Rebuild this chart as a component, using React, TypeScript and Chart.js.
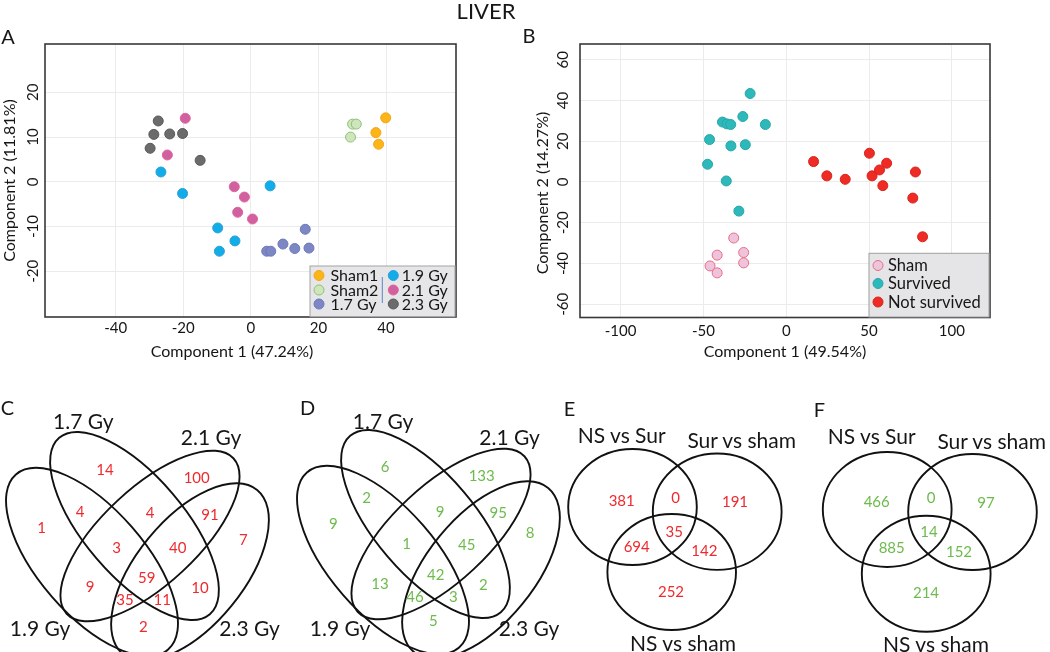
import React, { useEffect, useRef } from 'react';
import { Chart, registerables } from 'chart.js';

Chart.register(...registerables);

const W = 1050;
const H = 652;
const FONT = 'Lato, "Noto Sans", "DejaVu Sans", sans-serif';
const INK = '#161616';

// ---------------- Panel A (PCA, dose groups) ----------------
const A_GROUPS = ['Sham1', 'Sham2', '1.7 Gy', '1.9 Gy', '2.1 Gy', '2.3 Gy'];
const A_SHAM1: [number, number][] = [[39.9, 14.3], [37.0, 11.0], [37.8, 8.4]];
const A_SHAM2: [number, number][] = [[30.1, 12.9], [31.2, 12.9], [29.5, 10.0]];
const A_G17: [number, number][] = [[4.7, -15.5], [5.9, -15.5], [9.5, -13.9], [13.0, -14.9], [17.2, -14.8], [16.1, -10.6]];
const A_G19: [number, number][] = [[-26.6, 2.2], [-20.2, -2.6], [5.7, -0.9], [-9.8, -10.3], [-4.7, -13.2], [-9.3, -15.5]];
const A_G21: [number, number][] = [[-19.4, 14.2], [-24.7, 6.0], [-4.9, -1.1], [-1.9, -3.4], [-3.9, -6.8], [0.5, -8.3]];
const A_G23: [number, number][] = [[-27.4, 13.6], [-28.7, 10.6], [-24.0, 10.7], [-20.2, 10.8], [-29.8, 7.5], [-15.0, 4.8]];
const A_X_TICKS = [-40, -20, 0, 20, 40];
const A_Y_TICKS = [-20, -10, 0, 10, 20];
const A_X_TITLE = 'Component 1 (47.24%)';
const A_Y_TITLE = 'Component 2 (11.81%)';

// ---------------- Panel B (PCA, outcome groups) ----------------
const B_GROUPS = ['Sham', 'Survived', 'Not survived'];
const B_SHAM: [number, number][] = [[-31.7, -27.5], [-41.7, -35.9], [-25.7, -34.6], [-25.7, -39.7], [-46.0, -41.2], [-41.7, -44.6]];
const B_SURVIVED: [number, number][] = [[-21.8, 43.4], [-26.2, 32.1], [-12.6, 28.2], [-38.5, 29.4], [-35.8, 28.5], [-33.5, 28.2], [-46.3, 20.8], [-33.4, 17.7], [-24.7, 18.3], [-47.5, 8.7], [-36.2, 0.5], [-28.6, -14.3]];
const B_NOT_SURVIVED: [number, number][] = [[16.5, 10.0], [24.5, 3.0], [35.6, 1.3], [50.2, 14.1], [51.8, 3.0], [56.3, 5.9], [60.6, 9.2], [58.3, -1.8], [78.0, 4.9], [76.4, -7.9], [82.3, -26.9]];
const B_X_TICKS = [-100, -50, 0, 50, 100];
const B_Y_TICKS = [-60, -40, -20, 0, 20, 40, 60];
const B_X_TITLE = 'Component 1 (49.54%)';
const B_Y_TITLE = 'Component 2 (14.27%)';

// ---------------- Venn counts ----------------
// region order (4-set): 1.9 only, 1.7 only, 2.1 only, 2.3 only, 1.9&1.7, 1.7&2.1, 2.1&2.3,
// 1.9&1.7&2.1, 1.7&2.1&2.3, 1.9&2.1, 1.7&2.3, all, 1.9&2.1&2.3, 1.9&1.7&2.3, 1.9&2.3
const C_COUNTS = [1, 14, 100, 7, 4, 4, 91, 3, 40, 9, 10, 59, 35, 11, 2];
const D_COUNTS = [9, 6, 133, 8, 2, 9, 95, 1, 45, 13, 2, 42, 46, 3, 5];
const VENN4_SETS = ['1.7 Gy', '2.1 Gy', '1.9 Gy', '2.3 Gy'];
// region order (3-set): NS vs Sur only, NSvsSur & SurvsSham, Sur vs sham only, all, NSvsSur & NSvsSham, SurvsSham & NSvsSham, NS vs sham only
const E_COUNTS = [381, 0, 191, 35, 694, 142, 252];
const F_COUNTS = [466, 0, 97, 14, 885, 152, 214];
const VENN3_SETS = ['NS vs Sur', 'Sur vs sham', 'NS vs sham'];

// ---------------- layout (positions / sizes / styles) ----------------
const A_LAYOUT = { left: 45, right: 456, top: 44, bottom: 317, xMin: -60.9, xMax: 60.7, yMin: -30.2, yMax: 30.8, yTickX: 33.3, xTickPad: 2, xTitle: [232, 352], yTitle: [9.5, 180.5] };
const B_LAYOUT = { left: 580, right: 990, top: 44, bottom: 317.5, xMin: -124.5, xMax: 123, yMin: -66.5, yMax: 67.7, yTickX: 563.5, xTickPad: 5, xTitle: [785, 352], yTitle: [542.5, 193] };
const A_STYLES = [
  { fill: '#FDB515', stroke: '#F2A51C' },
  { fill: '#CFE5BB', stroke: '#8FC277' },
  { fill: '#7C87C4', stroke: '#6C78BB' },
  { fill: '#10ADE8', stroke: '#2E9FD8' },
  { fill: '#D0609E', stroke: '#E2639F' },
  { fill: '#6B6B6B', stroke: '#595959' },
];
const B_STYLES = [
  { fill: '#EDC4DB', stroke: '#EA6D84' },
  { fill: '#2DB8BA', stroke: '#27A7AA' },
  { fill: '#EE2B24', stroke: '#D9231C' },
];
const A_LEGEND = { box: [310, 266, 455, 316.7], cols: [[319, 330.5], [393.3, 401.7]], rows: [275.5, 290, 304], divider: [382.3, 277, 303], font: 16 };
const B_LEGEND = { box: [869, 253.3, 989, 317], col: [878, 888], rows: [265.5, 283.5, 302], font: 16.5 };

const C_POS: [number, number][] = [[41.7, 528.3], [105, 470], [196.7, 478.3], [243.3, 540], [80, 511.7], [150, 513.3], [210, 515], [116.7, 548.3], [177.7, 548.3], [90, 586.7], [200, 588.3], [146.7, 578.3], [125, 600], [162.3, 600], [143.3, 626.7]];
const D_POS: [number, number][] = [[333.3, 524], [385, 466.7], [481.7, 476], [530, 533], [366.7, 497.7], [440, 511.7], [498.3, 513.3], [406.7, 544], [466.7, 545], [380, 584.3], [483.3, 585], [435.7, 575], [415, 596.7], [453.3, 596.7], [433.3, 620.7]];
const E_POS: [number, number][] = [[621.7, 501], [675.7, 498.3], [735, 502.3], [674.3, 532.3], [636.7, 547.3], [704.3, 550.7], [671, 591.7]];
const F_POS: [number, number][] = [[876.7, 501.7], [931, 498.3], [986, 502.7], [929, 532.3], [891.7, 548.3], [959, 551.7], [926, 592.7]];

// ellipses: [cx, cy, rx, ry, rotationDeg]
const C_SHAPES: number[][] = [[92, 562, 116, 53, 49], [134.5, 526, 116, 50, 49.5], [150, 536, 114, 48, -43], [190, 572, 106, 53.5, -50.7]];
const D_OFFSET = [291, -2];
const E_SHAPES: number[][] = [[632.5, 507, 64.3, 58, 0], [717.2, 511.7, 64.4, 58.2, 0], [671.7, 572, 64.3, 58, 0]];
const F_SHAPES: number[][] = [[887.2, 509.5, 64.4, 57.5, 0], [972.5, 512, 64.3, 58, 0], [926.2, 573.7, 64.4, 58, 0]];
const RED = '#EE2A2E';
const GREEN = '#6DBB4C';

const TEXTS: { t: string; x: number; y: number; s: number }[] = [
  { t: 'LIVER', x: 486, y: 11, s: 22 },
  { t: 'A', x: 8, y: 36, s: 20 },
  { t: 'B', x: 529, y: 35, s: 20 },
  { t: 'C', x: 7.5, y: 407, s: 20 },
  { t: 'D', x: 307.5, y: 407, s: 20 },
  { t: 'E', x: 569.5, y: 408, s: 20 },
  { t: 'F', x: 819.5, y: 409, s: 20 },
  { t: VENN4_SETS[0], x: 83.3, y: 420, s: 21 },
  { t: VENN4_SETS[1], x: 211, y: 435.5, s: 21 },
  { t: VENN4_SETS[2], x: 40, y: 627, s: 21 },
  { t: VENN4_SETS[3], x: 249.5, y: 627, s: 21 },
  { t: VENN4_SETS[0], x: 383, y: 420, s: 21 },
  { t: VENN4_SETS[1], x: 509.5, y: 435.5, s: 21 },
  { t: VENN4_SETS[2], x: 340, y: 627, s: 21 },
  { t: VENN4_SETS[3], x: 529, y: 627, s: 21 },
  { t: VENN3_SETS[0], x: 621.7, y: 434, s: 21 },
  { t: VENN3_SETS[1], x: 741.7, y: 438.5, s: 21 },
  { t: VENN3_SETS[2], x: 683, y: 642, s: 21 },
  { t: VENN3_SETS[0], x: 871.7, y: 435, s: 21 },
  { t: VENN3_SETS[1], x: 991.7, y: 440, s: 21 },
  { t: VENN3_SETS[2], x: 936, y: 643, s: 21 },
];

type Panel = {
  L: typeof A_LAYOUT;
  names: string[];
  series: [number, number][][];
  styles: { fill: string; stroke: string }[];
  xTicks: number[];
  yTicks: number[];
  xTitle: string;
  yTitle: string;
  legend: (ctx: CanvasRenderingContext2D, p: Panel) => void;
};

function drawMarker(ctx: CanvasRenderingContext2D, x: number, y: number, st: { fill: string; stroke: string }) {
  ctx.beginPath();
  ctx.arc(x, y, 5, 0, Math.PI * 2);
  ctx.fillStyle = st.fill;
  ctx.fill();
  ctx.lineWidth = 1;
  ctx.strokeStyle = st.stroke;
  ctx.stroke();
}

function legendA(ctx: CanvasRenderingContext2D, p: Panel) {
  const g = A_LEGEND;
  const [x0, y0, x1, y1] = g.box;
  ctx.fillStyle = '#E6E6E8';
  ctx.fillRect(x0, y0, x1 - x0, y1 - y0);
  ctx.strokeStyle = '#A3A3A3';
  ctx.lineWidth = 1;
  ctx.strokeRect(x0, y0, x1 - x0, y1 - y0);
  ctx.font = `${g.font}px ${FONT}`;
  ctx.textAlign = 'left';
  ctx.textBaseline = 'middle';
  p.names.forEach((n, i) => {
    const col = g.cols[Math.floor(i / 3)];
    const y = g.rows[i % 3];
    drawMarker(ctx, col[0], y, p.styles[i]);
    ctx.fillStyle = INK;
    ctx.fillText(n, col[1], y + 0.5);
  });
  ctx.strokeStyle = '#5E82C6';
  ctx.beginPath();
  ctx.moveTo(g.divider[0], g.divider[1]);
  ctx.lineTo(g.divider[0], g.divider[2]);
  ctx.stroke();
}

function legendB(ctx: CanvasRenderingContext2D, p: Panel) {
  const g = B_LEGEND;
  const [x0, y0, x1, y1] = g.box;
  ctx.fillStyle = '#E5E5E7';
  ctx.fillRect(x0, y0, x1 - x0, y1 - y0);
  ctx.strokeStyle = '#A0A0A0';
  ctx.lineWidth = 1;
  ctx.strokeRect(x0, y0, x1 - x0, y1 - y0);
  ctx.font = `${g.font}px ${FONT}`;
  ctx.textAlign = 'left';
  ctx.textBaseline = 'middle';
  p.names.forEach((n, i) => {
    const y = g.rows[i];
    drawMarker(ctx, g.col[0], y, p.styles[i]);
    ctx.fillStyle = INK;
    ctx.fillText(n, g.col[1], y + 0.5);
  });
}

function scatterConfig(p: Panel): any {
  const L = p.L;
  const yWidth = 45;
  const xHeight = 48;
  const decor = {
    id: 'panelDecor',
    afterDraw(chart: any) {
      const { ctx, chartArea: ca, scales } = chart;
      ctx.save();
      ctx.strokeStyle = '#383838';
      ctx.lineWidth = 1.6;
      ctx.strokeRect(ca.left, ca.top, ca.right - ca.left, ca.bottom - ca.top);
      ctx.fillStyle = INK;
      ctx.font = `15px ${FONT}`;
      ctx.textAlign = 'center';
      ctx.textBaseline = 'middle';
      p.yTicks.forEach((v) => {
        const py = scales.y.getPixelForValue(v);
        ctx.save();
        ctx.translate(L.yTickX, py);
        ctx.rotate(-Math.PI / 2);
        ctx.fillText(String(v), 0, 0);
        ctx.restore();
      });
      ctx.font = `16px ${FONT}`;
      ctx.fillText(p.xTitle, L.xTitle[0], L.xTitle[1]);
      ctx.save();
      ctx.translate(L.yTitle[0], L.yTitle[1]);
      ctx.rotate(-Math.PI / 2);
      ctx.fillText(p.yTitle, 0, 0);
      ctx.restore();
      p.legend(ctx, p);
      ctx.restore();
    },
  };
  return {
    type: 'scatter',
    data: {
      datasets: p.series.map((s, i) => ({
        label: p.names[i],
        data: s.map(([x, y]) => ({ x, y })),
        backgroundColor: p.styles[i].fill,
        borderColor: p.styles[i].stroke,
        borderWidth: 1,
        pointRadius: 5,
        pointHoverRadius: 5,
      })),
    },
    options: {
      responsive: false,
      animation: false,
      devicePixelRatio: 1,
      events: [],
      layout: { padding: { left: L.left - yWidth, top: L.top, right: W - L.right, bottom: H - L.bottom - xHeight } },
      plugins: { legend: { display: false }, tooltip: { enabled: false }, title: { display: false } },
      scales: {
        x: {
          type: 'linear',
          min: L.xMin,
          max: L.xMax,
          afterBuildTicks: (s: any) => { s.ticks = p.xTicks.map((v) => ({ value: v })); },
          afterFit: (s: any) => { s.height = xHeight; },
          grid: { color: '#EBEBEB', lineWidth: 1, drawTicks: false },
          border: { display: false },
          ticks: { font: { family: FONT, size: 15 }, color: INK, padding: L.xTickPad, maxRotation: 0, autoSkip: false },
        },
        y: {
          type: 'linear',
          min: L.yMin,
          max: L.yMax,
          afterBuildTicks: (s: any) => { s.ticks = p.yTicks.map((v) => ({ value: v })); },
          afterFit: (s: any) => { s.width = yWidth; },
          grid: { color: '#EBEBEB', lineWidth: 1, drawTicks: false },
          border: { display: false },
          ticks: { display: false },
        },
      },
    },
    plugins: [decor],
  };
}

const PANEL_A: Panel = {
  L: A_LAYOUT, names: A_GROUPS, series: [A_SHAM1, A_SHAM2, A_G17, A_G19, A_G21, A_G23], styles: A_STYLES,
  xTicks: A_X_TICKS, yTicks: A_Y_TICKS, xTitle: A_X_TITLE, yTitle: A_Y_TITLE, legend: legendA,
};
const PANEL_B: Panel = {
  L: B_LAYOUT as any, names: B_GROUPS, series: [B_SHAM, B_SURVIVED, B_NOT_SURVIVED], styles: B_STYLES,
  xTicks: B_X_TICKS, yTicks: B_Y_TICKS, xTitle: B_X_TITLE, yTitle: B_Y_TITLE, legend: legendB,
};

const D_SHAPES = C_SHAPES.map(([cx, cy, rx, ry, r]) => [cx + D_OFFSET[0], cy + D_OFFSET[1], rx, ry, r]);
const VENNS = [
  { counts: C_COUNTS, pos: C_POS, shapes: C_SHAPES, color: RED },
  { counts: D_COUNTS, pos: D_POS, shapes: D_SHAPES, color: GREEN },
  { counts: E_COUNTS, pos: E_POS, shapes: E_SHAPES, color: RED },
  { counts: F_COUNTS, pos: F_POS, shapes: F_SHAPES, color: GREEN },
];

function vennConfig(): any {
  const vennPlugin = {
    id: 'venn',
    afterDatasetsDraw(chart: any) {
      const { ctx, scales } = chart;
      const sx = scales.x.getPixelForValue(1) - scales.x.getPixelForValue(0);
      const sy = Math.abs(scales.y.getPixelForValue(1) - scales.y.getPixelForValue(0));
      ctx.save();
      ctx.strokeStyle = '#111';
      ctx.lineWidth = 1.9;
      VENNS.forEach((v) => {
        v.shapes.forEach(([cx, cy, rx, ry, rot]) => {
          ctx.beginPath();
          ctx.ellipse(scales.x.getPixelForValue(cx), scales.y.getPixelForValue(cy), rx * sx, ry * sy, (rot * Math.PI) / 180, 0, Math.PI * 2);
          ctx.stroke();
        });
      });
      ctx.font = `15px ${FONT}`;
      ctx.textAlign = 'center';
      ctx.textBaseline = 'middle';
      VENNS.forEach((v, di) => {
        const meta = chart.getDatasetMeta(di);
        meta.data.forEach((el: any, i: number) => {
          ctx.fillStyle = v.color;
          ctx.fillText(String(v.counts[i]), el.x, el.y);
        });
      });
      ctx.restore();
    },
  };
  return {
    type: 'scatter',
    data: {
      datasets: VENNS.map((v, i) => ({
        label: 'venn' + i,
        data: v.pos.map(([x, y]) => ({ x, y })),
        pointRadius: 0,
        pointHoverRadius: 0,
      })),
    },
    options: {
      responsive: false,
      animation: false,
      devicePixelRatio: 1,
      events: [],
      layout: { padding: 0 },
      plugins: { legend: { display: false }, tooltip: { enabled: false } },
      scales: {
        x: { type: 'linear', display: false, min: 0, max: W },
        y: { type: 'linear', display: false, min: 0, max: H, reverse: true },
      },
    },
    plugins: [vennPlugin],
  };
}

function ChartLayer({ make }: { make: () => any }) {
  const ref = useRef<HTMLCanvasElement>(null);
  useEffect(() => {
    const chart = new Chart(ref.current as HTMLCanvasElement, make());
    return () => chart.destroy();
  }, [make]);
  return (
    <canvas
      ref={ref}
      width={W}
      height={H}
      style={{ position: 'absolute', left: 0, top: 0, width: W, height: H, display: 'block' }}
    />
  );
}

const makeA = () => scatterConfig(PANEL_A);
const makeB = () => scatterConfig(PANEL_B);
const makeVenn = () => vennConfig();

export default function App() {
  return (
    <div style={{ position: 'fixed', left: 0, top: 0, width: W, height: H, background: '#fff', overflow: 'hidden' }}>
      <ChartLayer make={makeA} />
      <ChartLayer make={makeB} />
      <ChartLayer make={makeVenn} />
      {TEXTS.map((l, i) => (
        <div
          key={i}
          style={{
            position: 'absolute',
            left: l.x,
            top: l.y,
            transform: 'translate(-50%, -50%)',
            font: `${l.s}px ${FONT}`,
            lineHeight: 1,
            whiteSpace: 'nowrap',
            color: INK,
          }}
        >
          {l.t}
        </div>
      ))}
    </div>
  );
}
